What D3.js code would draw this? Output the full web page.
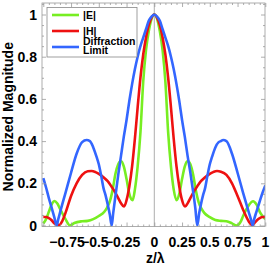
<!DOCTYPE html>
<html><head><meta charset="utf-8">
<script src="https://cdn.jsdelivr.net/npm/d3@7/dist/d3.min.js"></script>
<style>
html,body{margin:0;padding:0;background:#fff;}
svg{display:block;}
text{font-family:"Liberation Sans",Arial,sans-serif;font-weight:bold;}
</style></head>
<body>
<svg id="chart" width="270" height="267"></svg>
<script>
// ---- data ----
const seriesNames = ["|E|", "|H|", "Diffraction Limit"];
const seriesColors = ["#77ee22", "#ee1111", "#3366ff"];

const eZ = [-1.0,-0.975,-0.95,-0.92,-0.9,-0.875,-0.85,-0.8,-0.76,-0.72,-0.65,-0.6,-0.55,-0.5,-0.45,-0.425,-0.4,-0.375,-0.35,-0.325,-0.3,-0.275,-0.25,-0.225,-0.195,-0.175,-0.15,-0.125,-0.1,-0.075,-0.05,-0.025,
  0,0.025,0.05,0.075,0.1,0.125,0.15,0.175,0.2,0.225,0.25,0.275,0.3,0.325,0.35,0.375,0.4,0.425,0.45,0.5,0.55,0.6,0.65,0.7,0.74,0.78,0.8,0.85,0.89,0.92,0.95,0.975,1.0];
const eV = [0.01,0.03,0.065,0.105,0.116,0.105,0.08,0.03,0.0,0.012,0.02,0.022,0.03,0.045,0.065,0.085,0.115,0.17,0.245,0.29,0.305,0.28,0.22,0.15,0.12,0.17,0.28,0.44,0.68,0.83,0.92,0.98,
  1.0,0.98,0.92,0.83,0.68,0.44,0.28,0.17,0.12,0.15,0.22,0.28,0.305,0.29,0.24,0.165,0.11,0.08,0.06,0.04,0.026,0.022,0.02,0.01,0.0,0.02,0.045,0.095,0.115,0.10,0.065,0.045,0.03];

const hZ = [-1.0,-0.975,-0.95,-0.925,-0.9,-0.856,-0.83,-0.8,-0.75,-0.7,-0.65,-0.6,-0.565,-0.53,-0.5,-0.45,-0.42,-0.38,-0.35,-0.325,-0.3,-0.272,-0.25,-0.225,-0.2,-0.175,-0.15,-0.125,-0.1,-0.075,-0.05,-0.025,
  0,0.025,0.05,0.075,0.1,0.125,0.15,0.175,0.2,0.225,0.25,0.277,0.3,0.325,0.35,0.38,0.42,0.45,0.5,0.53,0.565,0.6,0.65,0.7,0.75,0.8,0.85,0.877,0.9,0.925,0.95,0.975,1.0];
const hV = [0.04,0.04,0.035,0.025,0.01,0.002,0.02,0.06,0.14,0.20,0.24,0.257,0.258,0.253,0.245,0.225,0.21,0.18,0.155,0.13,0.105,0.09,0.12,0.185,0.28,0.41,0.56,0.70,0.81,0.89,0.95,0.985,
  1.0,0.985,0.95,0.89,0.81,0.70,0.56,0.41,0.28,0.185,0.12,0.09,0.105,0.13,0.155,0.18,0.21,0.225,0.245,0.253,0.258,0.255,0.24,0.20,0.14,0.075,0.02,0.002,0.01,0.025,0.035,0.04,0.04];

const dZ = [-1.0,-0.975,-0.95,-0.92,-0.9,-0.88,-0.865,-0.85,-0.8,-0.75,-0.7,-0.65,-0.61,-0.58,-0.55,-0.52,-0.5,-0.48,-0.457,-0.44,-0.42,-0.4,-0.384,-0.37,-0.35,-0.325,-0.3,-0.275,-0.25,-0.225,-0.2,-0.175,-0.15,-0.125,-0.1,-0.075,-0.05,-0.025,
  0,0.025,0.05,0.075,0.1,0.125,0.15,0.175,0.2,0.225,0.25,0.275,0.3,0.325,0.35,0.37,0.387,0.405,0.42,0.44,0.457,0.48,0.5,0.52,0.55,0.58,0.6,0.62,0.65,0.7,0.75,0.8,0.85,0.87,0.886,0.9,0.92,0.95,0.975,1.0];
const dV = [0.224,0.18,0.13,0.075,0.037,0.0,0.03,0.06,0.155,0.25,0.34,0.395,0.405,0.40,0.37,0.325,0.29,0.24,0.176,0.145,0.10,0.05,0.0,0.06,0.14,0.24,0.33,0.42,0.50,0.59,0.67,0.74,0.80,0.85,0.89,0.93,0.97,0.99,
  1.0,0.99,0.97,0.93,0.89,0.85,0.80,0.74,0.67,0.59,0.50,0.42,0.33,0.25,0.16,0.08,0.0,0.06,0.10,0.145,0.176,0.24,0.29,0.325,0.37,0.395,0.40,0.405,0.40,0.34,0.25,0.155,0.065,0.03,0.0,0.03,0.065,0.115,0.155,0.19];

const xTicks = [-0.75,-0.5,-0.25,0,0.25,0.5,0.75,1];
const xTickLabels = ["\u22120.75","\u22120.5","\u22120.25","0","0.25","0.5","0.75","1"];
const yTicks = [0,0.2,0.4,0.6,0.8,1];
const yTickLabels = ["0","0.2","0.4","0.6","0.8","1"];
const xTitle = "z/\u03bb";
const yTitle = "Normalized Magnitude";

// ---- layout ----
const frame = {left:42, right:265, top:3, bottom:226.5};
const x = d3.scaleLinear().domain([-1,1]).range([43.3,265.3]);
const y = d3.scaleLinear().domain([0,1]).range([225.5,14.5]);
const svg = d3.select("#chart");

svg.append("defs").append("clipPath").attr("id","clip")
  .append("rect").attr("x",frame.left).attr("y",frame.top)
  .attr("width",frame.right-frame.left).attr("height",frame.bottom-frame.top);

// zero vertical axis line
svg.append("line").attr("x1",x(0)).attr("x2",x(0)).attr("y1",frame.top).attr("y2",frame.bottom)
  .attr("stroke","#999").attr("stroke-width",0.8);

// curves
const zs = [eZ,hZ,dZ], vs = [eV,hV,dV];
const line = d3.line().x(d=>x(d[0])).y(d=>y(d[1])).curve(d3.curveMonotoneX);
const gLines = svg.append("g").attr("clip-path","url(#clip)");
zs.forEach((z,i)=>{
  const pts = z.map((zz,j)=>[zz, vs[i][j]]);
  gLines.append("path").attr("d",line(pts)).attr("fill","none")
    .attr("stroke",seriesColors[i]).attr("stroke-width",2.6).attr("stroke-linejoin","round");
});

// frame
svg.append("rect").attr("x",frame.left).attr("y",frame.top)
  .attr("width",frame.right-frame.left).attr("height",frame.bottom-frame.top)
  .attr("fill","none").attr("stroke","#999").attr("stroke-width",0.8);

// ticks via axes
const xMinor = d3.range(-1,1.0001,0.05).map(v=>+v.toFixed(2)).filter(v=>Math.abs((v*4)-Math.round(v*4))>1e-6);
const yMinor = d3.range(0,1.05001,0.05).map(v=>+v.toFixed(2)).filter(v=>Math.abs((v*5)-Math.round(v*5))>1e-6);
function styleAxis(g){ g.select(".domain").remove(); g.selectAll("line").attr("stroke","#999").attr("stroke-width",0.8); }

const xMaj = [-1].concat(xTicks);
svg.append("g").attr("transform",`translate(0,${frame.bottom})`)
  .call(d3.axisBottom(x).tickValues(xMaj).tickSize(-4).tickFormat(""))
  .call(styleAxis);
svg.append("g").attr("transform",`translate(0,${frame.bottom})`)
  .call(d3.axisBottom(x).tickValues(xMinor).tickSize(-2).tickFormat(""))
  .call(styleAxis);
svg.append("g").attr("transform",`translate(0,${frame.top})`)
  .call(d3.axisTop(x).tickValues(xMaj).tickSize(-4).tickFormat(""))
  .call(styleAxis);
svg.append("g").attr("transform",`translate(0,${frame.top})`)
  .call(d3.axisTop(x).tickValues(xMinor).tickSize(-2).tickFormat(""))
  .call(styleAxis);
svg.append("g").attr("transform",`translate(${frame.left},0)`)
  .call(d3.axisLeft(y).tickValues(yTicks).tickSize(-4).tickFormat(""))
  .call(styleAxis);
svg.append("g").attr("transform",`translate(${frame.left},0)`)
  .call(d3.axisLeft(y).tickValues(yMinor).tickSize(-2).tickFormat(""))
  .call(styleAxis);
svg.append("g").attr("transform",`translate(${frame.right},0)`)
  .call(d3.axisRight(y).tickValues(yTicks).tickSize(-4).tickFormat(""))
  .call(styleAxis);
svg.append("g").attr("transform",`translate(${frame.right},0)`)
  .call(d3.axisRight(y).tickValues(yMinor).tickSize(-2).tickFormat(""))
  .call(styleAxis);

// tick labels
const gxl = svg.append("g").attr("font-size",14);
xTicks.forEach((t,i)=>{
  const neg = xTickLabels[i].startsWith("\u2212");
  gxl.append("text").attr("x",x(t) - (neg?4:0)).attr("y",247)
    .attr("text-anchor","middle").attr("fill","#000").text(xTickLabels[i]);
});
const gyl = svg.append("g").attr("font-size",14);
yTicks.forEach((t,i)=>{
  gyl.append("text").attr("x",37).attr("y",y(t)+5)
    .attr("text-anchor","end").attr("fill","#000").text(yTickLabels[i]);
});

// axis titles
svg.append("text").attr("x",x(0)+1).attr("y",263).attr("text-anchor","middle")
  .attr("font-size",14).text(xTitle);
svg.append("text").attr("transform",`translate(13,${(frame.top+frame.bottom)/2+2}) rotate(-90)`)
  .attr("text-anchor","middle").attr("font-size",14).text(yTitle);

// legend
const lg = svg.append("g");
lg.append("rect").attr("x",47).attr("y",7.5).attr("width",90).attr("height",49.5)
  .attr("fill","#fff").attr("stroke","#888").attr("stroke-width",0.8);
const legY = [15,31,47];
seriesNames.forEach((n,i)=>{
  lg.append("line").attr("x1",52).attr("x2",79).attr("y1",legY[i]).attr("y2",legY[i])
    .attr("stroke",seriesColors[i]).attr("stroke-width",2.6);
});
lg.append("text").attr("x",83).attr("y",19).attr("font-size",10.5).text("|E|");
lg.append("text").attr("x",83).attr("y",35).attr("font-size",10.5).text("|H|");
lg.append("text").attr("x",83).attr("y",45).attr("font-size",10.5).text("Diffraction");
lg.append("text").attr("x",83).attr("y",54).attr("font-size",10.5).text("Limit");
</script>
</body></html>
